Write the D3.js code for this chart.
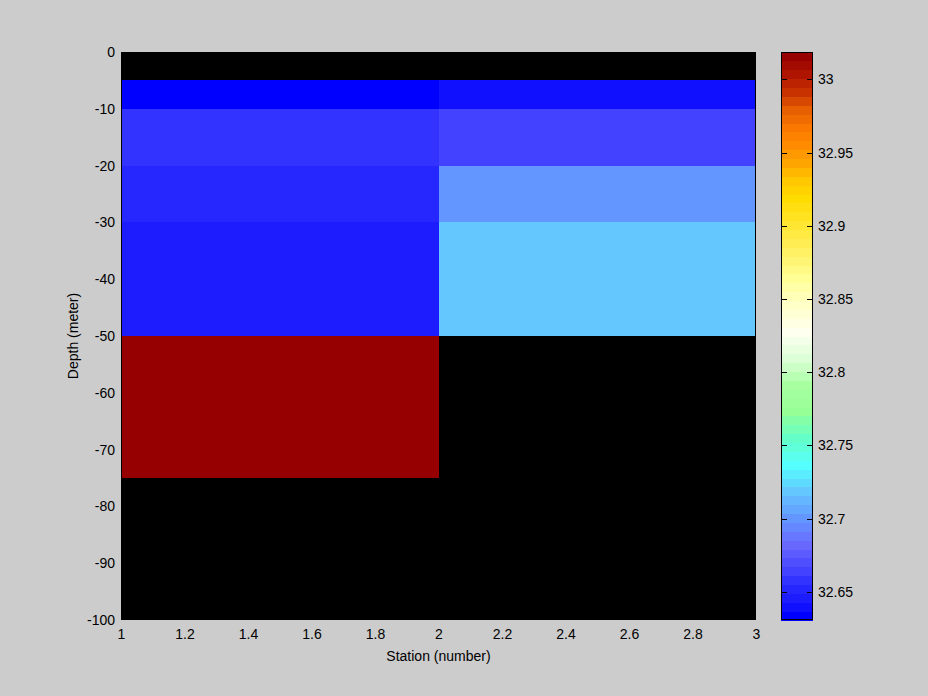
<!DOCTYPE html>
<html>
<head>
<meta charset="utf-8">
<script src="https://cdn.jsdelivr.net/npm/d3@7"></script>
<style>
  html, body { margin: 0; padding: 0; background: #cccccc; }
  svg { display: block; font-family: "Liberation Sans", Arial, sans-serif; }
</style>
</head>
<body>
<svg id="chart" width="928" height="696"></svg>
<script>
// ---- data ----
const stations = [1, 2, 3];
const depths = [0, -5, -10, -20, -30, -50, -75, -100];
// salinity at each depth (value colours the cell below that depth); null = no data
const station1 = [null, 32.6307, 32.658, 32.652, 32.646, 33.0187, null, null];
const station2 = [null, 32.640, 32.664, 32.700, 32.719, null, null, null];
const colorMin = 32.6307;
const colorMax = 33.0187;
const xTicks = [1, 1.2, 1.4, 1.6, 1.8, 2, 2.2, 2.4, 2.6, 2.8, 3];
const yTicks = [0, -10, -20, -30, -40, -50, -60, -70, -80, -90, -100];
const cTicks = [32.65, 32.7, 32.75, 32.8, 32.85, 32.9, 32.95, 33];
const xLabel = "Station (number)";
const yLabel = "Depth (meter)";

// colormap anchors (index in 64-colour map -> colour)
const cmapIdx = [0, 1, 2, 3, 4, 5, 8, 11, 14, 17, 20, 23, 26, 29, 32, 35, 38, 41, 44, 47, 49, 51, 53, 55, 57, 59, 61, 63];
const cmapCol = ["#0000ff", "#1010ff", "#1c1cff", "#2626ff", "#3333ff", "#4242ff", "#6868ff", "#6496ff",
                 "#64c8ff", "#55ffff", "#64ffc8", "#96ff96", "#a8ffa0", "#dcffd8", "#fffff0", "#ffffc8",
                 "#ffff96", "#fff064", "#ffe632", "#ffdc00", "#ffc800", "#ffa500", "#ff8c00", "#fa7800",
                 "#e65f00", "#c83200", "#af1400", "#960000"];

// ---- layout ----
const W = 928, H = 696;
const plot = { left: 121, right: 756, top: 52, bottom: 620 };
const cbar = { left: 781, right: 813 };
const svg = d3.select("#chart");

svg.append("rect").attr("width", W).attr("height", H).attr("fill", "#cccccc");

const x = d3.scaleLinear().domain([1, 3]).range([plot.left, plot.right]);
const y = d3.scaleLinear().domain([-100, 0]).range([plot.bottom, plot.top]);

const interp = d3.scaleLinear().domain(cmapIdx).range(cmapCol).interpolate(d3.interpolateRgb);
const cmap = d3.range(64).map(i => interp(i));
const color = d3.scaleQuantize().domain([colorMin, colorMax]).range(cmap);

// plot background (no-data)
svg.append("rect")
  .attr("x", plot.left).attr("y", plot.top)
  .attr("width", plot.right - plot.left).attr("height", plot.bottom - plot.top)
  .attr("fill", "#000000");

// cells
const cols = [station1, station2];
const cells = [];
cols.forEach((vals, j) => {
  for (let i = 0; i < depths.length - 1; i++) {
    if (vals[i] != null) {
      cells.push({ x0: stations[j], x1: stations[j + 1], d0: depths[i], d1: depths[i + 1], v: vals[i] });
    }
  }
});
svg.append("g").attr("shape-rendering", "crispEdges")
  .selectAll("rect").data(cells).join("rect")
  .attr("x", d => x(d.x0))
  .attr("y", d => y(d.d0))
  .attr("width", d => x(d.x1) - x(d.x0))
  .attr("height", d => y(d.d1) - y(d.d0))
  .attr("fill", d => color(d.v));

// plot frame
svg.append("rect")
  .attr("x", plot.left + 0.5).attr("y", plot.top + 0.5)
  .attr("width", plot.right - plot.left - 1).attr("height", plot.bottom - plot.top - 1)
  .attr("fill", "none").attr("stroke", "#000").attr("shape-rendering", "crispEdges");

// x axis
const xAxis = d3.axisBottom(x).tickValues(xTicks).tickFormat(d => String(d)).tickSize(0).tickPadding(9);
const gx = svg.append("g").attr("transform", `translate(0,${plot.bottom})`).call(xAxis);
gx.select(".domain").remove();
gx.selectAll("text").attr("font-size", 14).attr("font-family", "Liberation Sans, Arial, sans-serif").attr("fill", "#000");

// y axis
const yAxis = d3.axisLeft(y).tickValues(yTicks).tickFormat(d => String(d)).tickSize(0).tickPadding(6);
const gy = svg.append("g").attr("transform", `translate(${plot.left},0)`).call(yAxis);
gy.select(".domain").remove();
gy.selectAll("text").attr("font-size", 14).attr("font-family", "Liberation Sans, Arial, sans-serif").attr("fill", "#000");

// axis labels
svg.append("text")
  .attr("x", (plot.left + plot.right) / 2).attr("y", 661)
  .attr("text-anchor", "middle").attr("font-size", 14).attr("fill", "#000")
  .text(xLabel);
svg.append("text")
  .attr("transform", `translate(78,${(plot.top + plot.bottom) / 2}) rotate(-90)`)
  .attr("text-anchor", "middle").attr("font-size", 14).attr("fill", "#000")
  .text(yLabel);

// colorbar
const cy = d3.scaleLinear().domain([colorMin, colorMax]).range([plot.bottom, plot.top]);
const step = (colorMax - colorMin) / cmap.length;
svg.append("g").attr("shape-rendering", "crispEdges")
  .selectAll("rect").data(cmap).join("rect")
  .attr("x", cbar.left)
  .attr("y", (d, i) => cy(colorMin + (i + 1) * step))
  .attr("width", cbar.right - cbar.left)
  .attr("height", (d, i) => cy(colorMin + i * step) - cy(colorMin + (i + 1) * step) + 0.5)
  .attr("fill", d => d);

// colorbar ticks (inside both edges)
const cg = svg.append("g").attr("shape-rendering", "crispEdges");
cg.selectAll("line.l").data(cTicks).join("line").attr("class", "l")
  .attr("x1", cbar.left).attr("x2", cbar.left + 6)
  .attr("y1", d => Math.round(cy(d)) + 0.5).attr("y2", d => Math.round(cy(d)) + 0.5)
  .attr("stroke", "#000");
cg.selectAll("line.r").data(cTicks).join("line").attr("class", "r")
  .attr("x1", cbar.right - 6).attr("x2", cbar.right)
  .attr("y1", d => Math.round(cy(d)) + 0.5).attr("y2", d => Math.round(cy(d)) + 0.5)
  .attr("stroke", "#000");
const cAxis = d3.axisRight(cy).tickValues(cTicks).tickFormat(d => String(d)).tickSize(0).tickPadding(5);
const gc = svg.append("g").attr("transform", `translate(${cbar.right},0)`).call(cAxis);
gc.select(".domain").remove();
gc.selectAll("text").attr("font-size", 14).attr("font-family", "Liberation Sans, Arial, sans-serif").attr("fill", "#000");

svg.append("rect")
  .attr("x", cbar.left + 0.5).attr("y", plot.top + 0.5)
  .attr("width", cbar.right - cbar.left - 1).attr("height", plot.bottom - plot.top - 1)
  .attr("fill", "none").attr("stroke", "#000").attr("shape-rendering", "crispEdges");
</script>
</body>
</html>
